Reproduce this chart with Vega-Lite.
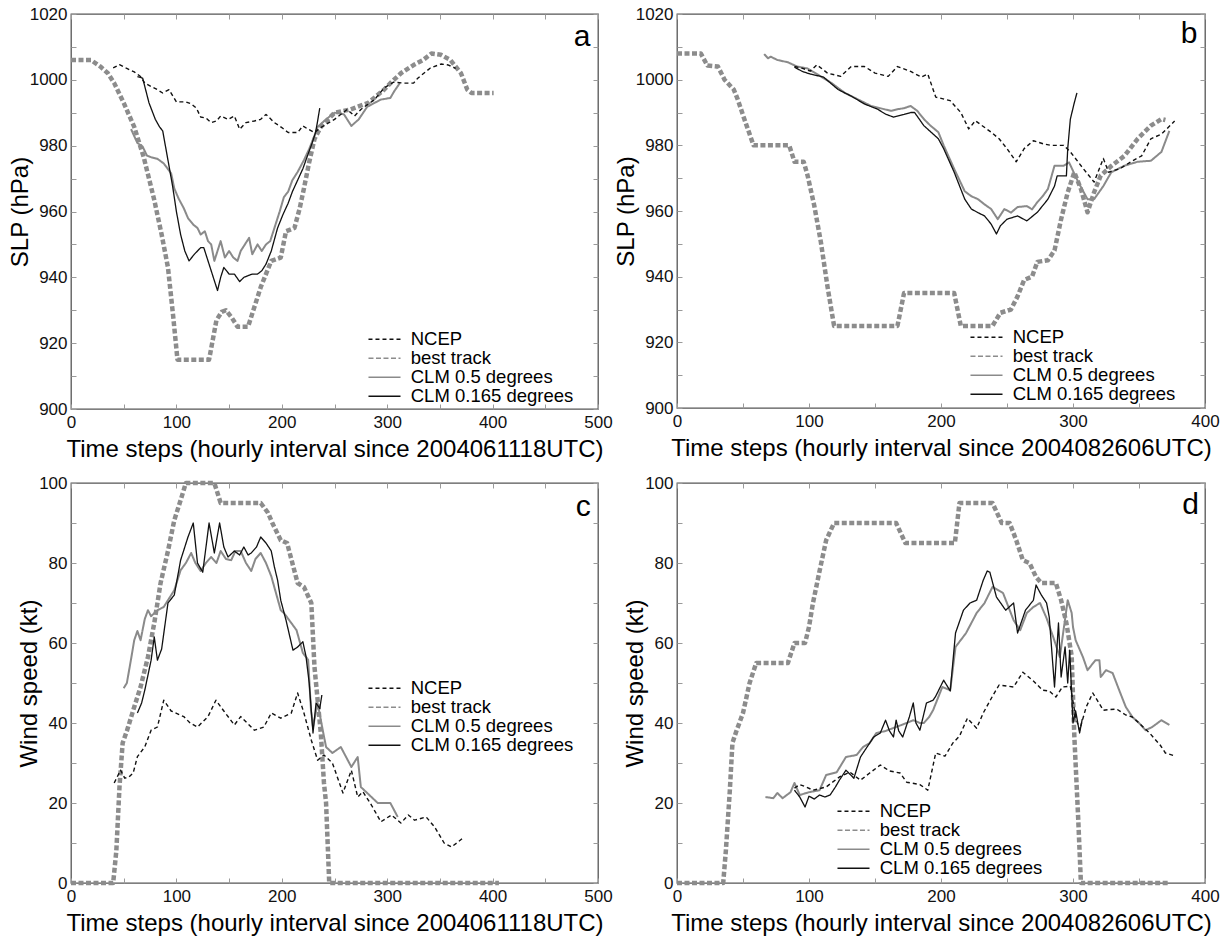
{
"$schema":"https://vega.github.io/schema/vega-lite/v6.json",
"background":"white",
"padding":{"left":7,"top":4,"right":0,"bottom":0},
"bounds":"flush",
"columns":2,
"spacing":{"row":74,"column":79},
"resolve":{"scale":{"color":"independent","strokeDash":"independent"},"legend":{"color":"independent","strokeDash":"independent"}},
"datasets":{
"a_bt":[{"t":0,"v":1006},{"t":10,"v":1006},{"t":19,"v":1006},{"t":28,"v":1004},{"t":35,"v":1002},{"t":41,"v":999},{"t":50,"v":993},{"t":60,"v":985.7},{"t":69,"v":976.5},{"t":79,"v":963.5},{"t":86,"v":953},{"t":92,"v":943},{"t":97,"v":928},{"t":101,"v":915},{"t":115,"v":915},{"t":131,"v":915},{"t":138,"v":927},{"t":143,"v":929.5},{"t":147,"v":930},{"t":152,"v":928},{"t":158,"v":925},{"t":168,"v":925},{"t":175,"v":932},{"t":180,"v":937},{"t":190,"v":945},{"t":199,"v":946},{"t":204,"v":954},{"t":212,"v":955},{"t":217,"v":961},{"t":221,"v":967},{"t":226,"v":975},{"t":231,"v":982},{"t":237,"v":985.7},{"t":250,"v":990},{"t":265,"v":991},{"t":282,"v":993},{"t":297,"v":997},{"t":304,"v":999.3},{"t":313,"v":1002},{"t":325,"v":1004.5},{"t":334,"v":1006},{"t":342,"v":1008},{"t":351,"v":1007.6},{"t":360,"v":1006},{"t":370,"v":1002},{"t":376,"v":997},{"t":380,"v":996},{"t":390,"v":996},{"t":401,"v":996}],
"a_nc":[{"t":40,"v":1003.6},{"t":46,"v":1004.6},{"t":52,"v":1003.6},{"t":60,"v":1002.4},{"t":66,"v":1001},{"t":70,"v":999},{"t":76,"v":998},{"t":82,"v":997},{"t":87,"v":996},{"t":93,"v":997},{"t":100,"v":993.3},{"t":109,"v":993.3},{"t":114,"v":992.7},{"t":119,"v":991.4},{"t":123,"v":988.7},{"t":128,"v":988.4},{"t":133,"v":987},{"t":138,"v":987.5},{"t":142,"v":989},{"t":149,"v":988},{"t":155,"v":989},{"t":160,"v":985},{"t":166,"v":987},{"t":174,"v":987.5},{"t":180,"v":988},{"t":185,"v":989.5},{"t":193,"v":987},{"t":200,"v":985.5},{"t":206,"v":984},{"t":215,"v":984},{"t":220,"v":986},{"t":225,"v":985},{"t":231,"v":984},{"t":237,"v":985.5},{"t":250,"v":988},{"t":262,"v":991},{"t":269,"v":989},{"t":275,"v":991},{"t":281,"v":992.4},{"t":288,"v":994},{"t":297,"v":997.5},{"t":306,"v":999.3},{"t":316,"v":999},{"t":325,"v":999},{"t":329,"v":1000.5},{"t":341,"v":1003.6},{"t":351,"v":1004.8},{"t":358,"v":1004.5},{"t":365,"v":1003.5}],
"a_c1":[{"t":63,"v":1001},{"t":68,"v":1000.5},{"t":74,"v":993},{"t":80,"v":988},{"t":84,"v":985.7},{"t":87,"v":984.5},{"t":92,"v":975.6},{"t":96.5,"v":967.5},{"t":100,"v":960},{"t":104,"v":953},{"t":108,"v":948},{"t":112,"v":945},{"t":117,"v":947},{"t":123,"v":949},{"t":126,"v":949},{"t":131,"v":944},{"t":135,"v":940},{"t":139,"v":936},{"t":142,"v":940},{"t":145,"v":943},{"t":150,"v":941},{"t":155,"v":941},{"t":160,"v":938.7},{"t":164,"v":940},{"t":168,"v":940.5},{"t":172,"v":941},{"t":177,"v":941},{"t":181,"v":942},{"t":185,"v":944},{"t":190,"v":948},{"t":196,"v":955},{"t":201,"v":959},{"t":206,"v":962.5},{"t":210,"v":966},{"t":215,"v":969.5},{"t":220,"v":973},{"t":225,"v":977.5},{"t":229,"v":981},{"t":232,"v":984},{"t":234,"v":987.5},{"t":236,"v":991.4}],
"a_c5":[{"t":57,"v":985},{"t":63,"v":980.8},{"t":68,"v":979.7},{"t":72,"v":977},{"t":76,"v":976.5},{"t":82,"v":976},{"t":88,"v":974.6},{"t":95,"v":971.6},{"t":98,"v":967},{"t":102,"v":964},{"t":107,"v":961},{"t":111,"v":958},{"t":116,"v":956},{"t":120,"v":955},{"t":123,"v":953},{"t":127,"v":954},{"t":130,"v":951},{"t":133,"v":950},{"t":136,"v":945},{"t":139,"v":948},{"t":142,"v":951},{"t":146,"v":946},{"t":150,"v":948},{"t":154,"v":946},{"t":158,"v":945},{"t":161,"v":948},{"t":165,"v":950},{"t":169,"v":952},{"t":172,"v":947},{"t":177,"v":950},{"t":181,"v":948},{"t":185,"v":950},{"t":189,"v":951},{"t":193,"v":955},{"t":198,"v":960},{"t":202,"v":964.4},{"t":206,"v":966},{"t":210,"v":969.5},{"t":215,"v":972},{"t":221,"v":975.6},{"t":226,"v":979},{"t":231,"v":983},{"t":234,"v":985.7},{"t":242,"v":988},{"t":250,"v":990},{"t":255,"v":989.8},{"t":259,"v":989.5},{"t":266,"v":986},{"t":273,"v":988},{"t":281,"v":991.8},{"t":288,"v":993},{"t":294,"v":994},{"t":303,"v":994.5},{"t":307,"v":996.7},{"t":312,"v":999}],
"b_bt":[{"t":0,"v":1008},{"t":18,"v":1008},{"t":23,"v":1004.3},{"t":31,"v":1004},{"t":36,"v":1000},{"t":43,"v":997},{"t":46,"v":994},{"t":51,"v":988},{"t":58,"v":980},{"t":85,"v":980},{"t":89,"v":975},{"t":96,"v":975},{"t":99,"v":970.7},{"t":104,"v":961.6},{"t":109,"v":950.5},{"t":114,"v":937},{"t":119,"v":925},{"t":167,"v":925},{"t":172,"v":935},{"t":210,"v":935},{"t":215,"v":925},{"t":239,"v":925},{"t":245,"v":929},{"t":253,"v":930},{"t":258,"v":934},{"t":263,"v":939},{"t":269,"v":940},{"t":273,"v":944.5},{"t":281,"v":945},{"t":286,"v":948},{"t":291,"v":957.5},{"t":296,"v":965.7},{"t":301,"v":971.8},{"t":306,"v":966.7},{"t":311,"v":959.6},{"t":316,"v":965.7},{"t":321,"v":970.8},{"t":329,"v":973.7},{"t":339,"v":976.8},{"t":349,"v":982},{"t":359,"v":986},{"t":367,"v":988},{"t":370,"v":987.7}],
"b_nc":[{"t":89,"v":1004},{"t":94,"v":1003.6},{"t":101,"v":1002.6},{"t":106,"v":1004.5},{"t":114,"v":1002},{"t":124,"v":1001},{"t":132,"v":1004},{"t":142,"v":1004},{"t":150,"v":1002},{"t":160,"v":1001},{"t":167,"v":1004},{"t":177,"v":1002.5},{"t":185,"v":1000.8},{"t":190,"v":1001.7},{"t":196,"v":994.7},{"t":207,"v":993.6},{"t":215,"v":990},{"t":221,"v":985},{"t":226,"v":987.5},{"t":238,"v":984},{"t":244,"v":982},{"t":250,"v":979},{"t":257,"v":975},{"t":263,"v":979},{"t":270,"v":981.4},{"t":278,"v":980.4},{"t":283,"v":980},{"t":293,"v":980},{"t":298,"v":978},{"t":308,"v":972.8},{"t":316,"v":968.8},{"t":323,"v":976},{"t":327,"v":971.8},{"t":336,"v":973},{"t":344,"v":975},{"t":352,"v":976.8},{"t":359,"v":982},{"t":367,"v":983.4},{"t":377,"v":987.4}],
"b_c5":[{"t":66,"v":1007.8},{"t":69,"v":1006.5},{"t":71,"v":1007},{"t":76,"v":1006},{"t":84,"v":1005.3},{"t":91,"v":1004},{"t":99,"v":1003.4},{"t":106,"v":1001.7},{"t":117,"v":999},{"t":127,"v":996},{"t":137,"v":994},{"t":147,"v":992},{"t":157,"v":991},{"t":162,"v":990.5},{"t":167,"v":991},{"t":172,"v":991.3},{"t":177,"v":992},{"t":182,"v":990.5},{"t":187,"v":988},{"t":192,"v":986},{"t":198,"v":984},{"t":202,"v":980},{"t":210,"v":972.8},{"t":218,"v":966},{"t":223,"v":964.5},{"t":228,"v":963.6},{"t":233,"v":962},{"t":238,"v":960.6},{"t":243,"v":957.5},{"t":248,"v":960.6},{"t":253,"v":959.5},{"t":258,"v":961.2},{"t":265,"v":961.5},{"t":269,"v":960.5},{"t":273,"v":962.7},{"t":277,"v":964.5},{"t":281,"v":966.7},{"t":286,"v":973.8},{"t":293,"v":973.8},{"t":297,"v":974.8},{"t":304,"v":968.8},{"t":311,"v":963.6},{"t":316,"v":963.6},{"t":323,"v":967.6},{"t":329,"v":971.8},{"t":339,"v":973.8},{"t":349,"v":975},{"t":359,"v":975.3},{"t":367,"v":978},{"t":373,"v":984.4}],
"b_c1":[{"t":89,"v":1003.8},{"t":95,"v":1002.5},{"t":101,"v":1001.7},{"t":111,"v":1000.8},{"t":122,"v":997},{"t":132,"v":995},{"t":142,"v":992.6},{"t":152,"v":991},{"t":158,"v":989.5},{"t":164,"v":988.6},{"t":172,"v":989.4},{"t":177,"v":990},{"t":180,"v":990},{"t":187,"v":986},{"t":198,"v":982},{"t":202,"v":979},{"t":210,"v":971.8},{"t":218,"v":963.6},{"t":223,"v":960.6},{"t":228,"v":959.5},{"t":233,"v":958.5},{"t":238,"v":956},{"t":242,"v":953},{"t":245,"v":955.5},{"t":250,"v":957.5},{"t":258,"v":958.5},{"t":265,"v":957},{"t":273,"v":959.6},{"t":281,"v":963.6},{"t":286,"v":967.6},{"t":288,"v":970.7},{"t":295,"v":970.7},{"t":296,"v":979},{"t":298,"v":988},{"t":301,"v":993},{"t":303,"v":996}],
"c_bt":[{"t":0,"v":0},{"t":40,"v":0},{"t":43,"v":8},{"t":46,"v":24},{"t":49,"v":35},{"t":53,"v":38},{"t":60,"v":44},{"t":66,"v":49},{"t":73,"v":56.5},{"t":79,"v":65},{"t":85,"v":75},{"t":92,"v":83},{"t":98,"v":90.7},{"t":104,"v":95.7},{"t":109,"v":100},{"t":136,"v":100},{"t":142,"v":95},{"t":180,"v":95},{"t":187,"v":92.5},{"t":191,"v":90},{"t":199,"v":85.7},{"t":205,"v":85},{"t":212,"v":78},{"t":215,"v":75},{"t":221,"v":74},{"t":228,"v":70},{"t":231,"v":54},{"t":237,"v":37.5},{"t":240,"v":25},{"t":242,"v":20},{"t":245,"v":0},{"t":406,"v":0}],
"c_nc":[{"t":41,"v":25},{"t":47,"v":28.2},{"t":51,"v":26.2},{"t":55,"v":26.5},{"t":59,"v":27.5},{"t":63,"v":31.6},{"t":70,"v":34},{"t":76,"v":38.2},{"t":82,"v":39},{"t":88,"v":45.7},{"t":95,"v":43},{"t":107,"v":41.6},{"t":113,"v":40},{"t":120,"v":39},{"t":130,"v":41.6},{"t":137.5,"v":45.7},{"t":145,"v":43},{"t":155,"v":39.5},{"t":161,"v":41.6},{"t":174,"v":38.2},{"t":183,"v":39},{"t":190,"v":42.5},{"t":199,"v":41.2},{"t":209,"v":42.5},{"t":215,"v":47.5},{"t":221,"v":42.5},{"t":228,"v":35.7},{"t":234,"v":30.7},{"t":240,"v":32},{"t":248,"v":30},{"t":258,"v":22.5},{"t":266,"v":28.2},{"t":272,"v":21.5},{"t":277,"v":22.8},{"t":285,"v":19.5},{"t":294,"v":15.3},{"t":304,"v":17},{"t":313,"v":15},{"t":320,"v":17},{"t":326,"v":15.7},{"t":337,"v":16.5},{"t":345,"v":14},{"t":354,"v":10},{"t":361,"v":9},{"t":367,"v":10.2},{"t":373,"v":11.5}],
"c_c5":[{"t":50,"v":48.7},{"t":53,"v":50},{"t":57,"v":56},{"t":60,"v":60.7},{"t":63,"v":63},{"t":66,"v":60.7},{"t":70,"v":66},{"t":73,"v":68.2},{"t":76,"v":66.7},{"t":82,"v":68.2},{"t":88,"v":69},{"t":92,"v":70.7},{"t":98,"v":73.2},{"t":104,"v":78.2},{"t":109,"v":80},{"t":114,"v":82.5},{"t":118,"v":80},{"t":123,"v":78},{"t":128,"v":80},{"t":133,"v":81.5},{"t":138,"v":80},{"t":142,"v":83},{"t":147,"v":81},{"t":152,"v":80.7},{"t":156,"v":83},{"t":161,"v":83},{"t":166,"v":80},{"t":171,"v":78},{"t":175,"v":81},{"t":180,"v":82.5},{"t":185,"v":80},{"t":190,"v":76.7},{"t":195,"v":72},{"t":199,"v":68.2},{"t":202,"v":67.5},{"t":209,"v":65},{"t":214,"v":63.2},{"t":220,"v":57.5},{"t":225,"v":55.8},{"t":227.7,"v":43.2},{"t":229.6,"v":39},{"t":234,"v":45},{"t":239,"v":38},{"t":242,"v":34},{"t":248,"v":32.5},{"t":256,"v":34},{"t":261,"v":31.5},{"t":266,"v":29},{"t":272,"v":31.5},{"t":275,"v":24},{"t":281,"v":22.5},{"t":291,"v":20},{"t":303,"v":20},{"t":310,"v":16.5}],
"c_c1":[{"t":63,"v":42.5},{"t":67,"v":45},{"t":70,"v":48.2},{"t":76,"v":55.7},{"t":79,"v":61.5},{"t":82,"v":55.7},{"t":86,"v":58.5},{"t":92,"v":70},{"t":98,"v":72},{"t":104,"v":80.7},{"t":111,"v":86.5},{"t":116,"v":90},{"t":120,"v":80},{"t":125,"v":77.7},{"t":131,"v":90},{"t":136,"v":82.5},{"t":141,"v":90},{"t":145,"v":84},{"t":149,"v":81.5},{"t":155,"v":83},{"t":160,"v":82},{"t":164,"v":84},{"t":168,"v":82},{"t":171,"v":82.5},{"t":176,"v":84},{"t":180,"v":86.5},{"t":185,"v":85},{"t":190,"v":83},{"t":193,"v":79},{"t":196,"v":75.7},{"t":199,"v":70.7},{"t":204,"v":65.7},{"t":210.6,"v":58.2},{"t":215,"v":59},{"t":220,"v":60.3},{"t":223,"v":56.6},{"t":226,"v":50},{"t":229.6,"v":37.5},{"t":232.5,"v":45},{"t":236,"v":43.6},{"t":238,"v":47}],
"d_bt":[{"t":0,"v":0},{"t":35,"v":0},{"t":37,"v":8},{"t":40,"v":23},{"t":42,"v":35},{"t":45,"v":38},{"t":50,"v":42.5},{"t":55,"v":50},{"t":60,"v":55},{"t":84,"v":55},{"t":89,"v":60},{"t":97,"v":60},{"t":100,"v":64},{"t":103,"v":70},{"t":108,"v":78},{"t":113,"v":85.7},{"t":119,"v":90},{"t":166,"v":90},{"t":173,"v":85},{"t":210.5,"v":85},{"t":214,"v":95},{"t":239,"v":95},{"t":246,"v":90},{"t":252,"v":90},{"t":257,"v":85.7},{"t":262,"v":80.7},{"t":267,"v":80},{"t":272,"v":76.5},{"t":276,"v":75},{"t":287,"v":75},{"t":291,"v":70.7},{"t":295,"v":65},{"t":299,"v":56.7},{"t":301,"v":36.7},{"t":304,"v":15.7},{"t":306,"v":0},{"t":372,"v":0}],
"d_nc":[{"t":89,"v":23.7},{"t":93,"v":24.6},{"t":98,"v":24},{"t":103,"v":23.2},{"t":113,"v":24},{"t":123,"v":26.5},{"t":131,"v":27.7},{"t":139,"v":25.7},{"t":146,"v":27.5},{"t":154,"v":29.5},{"t":161,"v":28},{"t":169,"v":27.5},{"t":174,"v":25.2},{"t":184,"v":24.6},{"t":190,"v":23.2},{"t":196,"v":32.5},{"t":203,"v":31.7},{"t":209,"v":35},{"t":214,"v":36.7},{"t":220,"v":41.2},{"t":227,"v":38.7},{"t":232,"v":42.5},{"t":239,"v":46.7},{"t":244,"v":49.5},{"t":255,"v":49},{"t":262,"v":52.7},{"t":270,"v":50.5},{"t":277,"v":48.2},{"t":282,"v":48},{"t":287,"v":46.5},{"t":292,"v":49},{"t":298,"v":49.2},{"t":302,"v":41.5},{"t":305,"v":38.2},{"t":310,"v":44},{"t":315,"v":47.5},{"t":323,"v":43.2},{"t":333,"v":43.5},{"t":340,"v":42},{"t":345,"v":41.5},{"t":350,"v":40},{"t":358,"v":37.5},{"t":366,"v":34.5},{"t":370,"v":32.5},{"t":377,"v":31.8}],
"d_c5":[{"t":67,"v":21.5},{"t":73,"v":21.2},{"t":76,"v":22.5},{"t":80,"v":21.2},{"t":86,"v":22.7},{"t":89,"v":25},{"t":93,"v":22},{"t":100,"v":22.7},{"t":108,"v":23.2},{"t":113,"v":27},{"t":121,"v":27.7},{"t":128,"v":31.5},{"t":136,"v":32},{"t":141,"v":34},{"t":146,"v":35},{"t":151,"v":37.5},{"t":158,"v":38},{"t":166,"v":39},{"t":174,"v":40},{"t":179,"v":40.7},{"t":184,"v":40},{"t":187,"v":40},{"t":191,"v":41.5},{"t":194,"v":43.2},{"t":201,"v":49},{"t":207,"v":48.2},{"t":211,"v":59},{"t":219,"v":62.5},{"t":227,"v":67.5},{"t":233,"v":70},{"t":239,"v":74},{"t":247,"v":72.5},{"t":255,"v":65.7},{"t":260,"v":63.2},{"t":265,"v":67.5},{"t":270,"v":69},{"t":275,"v":70},{"t":280,"v":66.2},{"t":285,"v":61.5},{"t":290,"v":56.5},{"t":296,"v":70.7},{"t":299,"v":67.5},{"t":300,"v":64},{"t":302,"v":60.7},{"t":307.5,"v":56.5},{"t":311,"v":53.2},{"t":317,"v":55.7},{"t":320,"v":55.7},{"t":321,"v":51.5},{"t":325,"v":53.2},{"t":330,"v":52.5},{"t":335,"v":48.2},{"t":340,"v":44},{"t":345,"v":41.5},{"t":350,"v":40},{"t":355,"v":38.2},{"t":360,"v":39},{"t":367,"v":40.7},{"t":373,"v":39.5}],
"d_c1":[{"t":89,"v":23.2},{"t":93,"v":21.5},{"t":97,"v":19},{"t":100,"v":21.7},{"t":104,"v":21},{"t":108,"v":22},{"t":112,"v":21.5},{"t":116,"v":22},{"t":120,"v":24},{"t":123,"v":25.7},{"t":128,"v":28.2},{"t":134,"v":26.2},{"t":139,"v":31.5},{"t":144,"v":34},{"t":149,"v":36.5},{"t":154,"v":37.5},{"t":158,"v":40.7},{"t":161,"v":38},{"t":164,"v":36.5},{"t":166,"v":40.7},{"t":168,"v":38},{"t":171,"v":36.5},{"t":176,"v":41.5},{"t":179,"v":45},{"t":181,"v":40},{"t":184,"v":38.2},{"t":189,"v":45},{"t":194,"v":45.7},{"t":196,"v":46.7},{"t":202,"v":50.7},{"t":207,"v":48},{"t":211,"v":62.5},{"t":217,"v":68.2},{"t":222,"v":70},{"t":227,"v":70.7},{"t":232,"v":75.7},{"t":235,"v":78},{"t":237,"v":77.7},{"t":242,"v":71.5},{"t":249,"v":68.2},{"t":255,"v":70},{"t":258,"v":62.5},{"t":264,"v":68.2},{"t":270,"v":70.7},{"t":272,"v":74.5},{"t":276,"v":72},{"t":280,"v":70},{"t":282,"v":66.5},{"t":286,"v":49},{"t":289,"v":65},{"t":291,"v":51.5},{"t":294,"v":59},{"t":296,"v":50},{"t":297.5,"v":58.2},{"t":300,"v":40},{"t":302,"v":43},{"t":305,"v":37.5},{"t":307,"v":41}]
},
"concat":[
{"width":527,"height":395,
 "layer":[
  {"encoding":{
    "x":{"field":"t","type":"quantitative","scale":{"domain":[0,500],"nice":false,"zero":false},"axis":{"orient":"bottom","values":[0,50,100,150,200,250,300,350,400,450,500],"labelExpr":"datum.value%100===0?''+datum.value:''","title":"Time steps (hourly interval since 2004061118UTC)"}},
    "y":{"field":"v","type":"quantitative","scale":{"domain":[900,1020],"nice":false,"zero":false},"axis":{"orient":"left","values":[900,910,920,930,940,950,960,970,980,990,1000,1010,1020],"labelExpr":"datum.value%20===0?''+datum.value:''","title":"SLP (hPa)"}}},
   "layer":[
    {"data":{"name":"a_bt"},"mark":{"type":"line","strokeWidth":4.5,"strokeCap":"butt"},"encoding":{"color":{"datum":"best track","scale":{"domain":["NCEP","best track","CLM 0.5 degrees","CLM 0.165 degrees"],"range":["#111111","#8c8c8c","#8a8a8a","#111111"]},"legend":{"legendX":298,"legendY":316,"encode":{"symbols":{"strokeWidth":{"condition":[{"test":"datum.value==='best track'","value":4.5},{"test":"datum.value==='CLM 0.5 degrees'","value":2}],"value":1.4}}}}},"strokeDash":{"datum":"best track","scale":{"domain":["NCEP","best track","CLM 0.5 degrees","CLM 0.165 degrees"],"range":[[4,3],[5,2.5],[1,0],[1,0]]},"legend":{"legendX":298,"legendY":316,"encode":{"symbols":{"strokeWidth":{"condition":[{"test":"datum.value==='best track'","value":4.5},{"test":"datum.value==='CLM 0.5 degrees'","value":2}],"value":1.4}}}}}}},
    {"data":{"name":"a_c5"},"mark":{"type":"line","strokeWidth":2},"encoding":{"color":{"datum":"CLM 0.5 degrees","legend":{"legendX":298,"legendY":316,"encode":{"symbols":{"strokeWidth":{"condition":[{"test":"datum.value==='best track'","value":4.5},{"test":"datum.value==='CLM 0.5 degrees'","value":2}],"value":1.4}}}}},"strokeDash":{"datum":"CLM 0.5 degrees","legend":{"legendX":298,"legendY":316,"encode":{"symbols":{"strokeWidth":{"condition":[{"test":"datum.value==='best track'","value":4.5},{"test":"datum.value==='CLM 0.5 degrees'","value":2}],"value":1.4}}}}}}},
    {"data":{"name":"a_c1"},"mark":{"type":"line","strokeWidth":1.3},"encoding":{"color":{"datum":"CLM 0.165 degrees","legend":{"legendX":298,"legendY":316,"encode":{"symbols":{"strokeWidth":{"condition":[{"test":"datum.value==='best track'","value":4.5},{"test":"datum.value==='CLM 0.5 degrees'","value":2}],"value":1.4}}}}},"strokeDash":{"datum":"CLM 0.165 degrees","legend":{"legendX":298,"legendY":316,"encode":{"symbols":{"strokeWidth":{"condition":[{"test":"datum.value==='best track'","value":4.5},{"test":"datum.value==='CLM 0.5 degrees'","value":2}],"value":1.4}}}}}}},
    {"data":{"name":"a_nc"},"mark":{"type":"line","strokeWidth":1.4},"encoding":{"color":{"datum":"NCEP","legend":{"legendX":298,"legendY":316,"encode":{"symbols":{"strokeWidth":{"condition":[{"test":"datum.value==='best track'","value":4.5},{"test":"datum.value==='CLM 0.5 degrees'","value":2}],"value":1.4}}}}},"strokeDash":{"datum":"NCEP","legend":{"legendX":298,"legendY":316,"encode":{"symbols":{"strokeWidth":{"condition":[{"test":"datum.value==='best track'","value":4.5},{"test":"datum.value==='CLM 0.5 degrees'","value":2}],"value":1.4}}}}}}}
   ]},
  {"data":{"values":[{}]},"mark":{"type":"text","fontSize":30,"align":"center","baseline":"middle","color":"#000000"},
   "encoding":{"x":{"datum":485,"type":"quantitative","axis":{"orient":"top","values":[0,50,100,150,200,250,300,350,400,450,500],"labels":false,"title":null}},
     "y":{"datum":1013,"type":"quantitative","axis":{"orient":"right","values":[900,910,920,930,940,950,960,970,980,990,1000,1010,1020],"labels":false,"title":null}},
     "text":{"value":"a"}}}
 ],
 "resolve":{"axis":{"x":"independent","y":"independent"}}},
{"width":528,"height":394,
 "layer":[
  {"encoding":{
    "x":{"field":"t","type":"quantitative","scale":{"domain":[0,400],"nice":false,"zero":false},"axis":{"orient":"bottom","values":[0,50,100,150,200,250,300,350,400],"labelExpr":"datum.value%100===0?''+datum.value:''","title":"Time steps (hourly interval since 2004082606UTC)"}},
    "y":{"field":"v","type":"quantitative","scale":{"domain":[900,1020],"nice":false,"zero":false},"axis":{"orient":"left","values":[900,910,920,930,940,950,960,970,980,990,1000,1010,1020],"labelExpr":"datum.value%20===0?''+datum.value:''","title":"SLP (hPa)"}}},
   "layer":[
    {"data":{"name":"b_bt"},"mark":{"type":"line","strokeWidth":4.5,"strokeCap":"butt"},"encoding":{"color":{"datum":"best track","scale":{"domain":["NCEP","best track","CLM 0.5 degrees","CLM 0.165 degrees"],"range":["#111111","#8c8c8c","#8a8a8a","#111111"]},"legend":{"legendX":294,"legendY":314,"encode":{"symbols":{"strokeWidth":{"condition":[{"test":"datum.value==='best track'","value":4.5},{"test":"datum.value==='CLM 0.5 degrees'","value":2}],"value":1.4}}}}},"strokeDash":{"datum":"best track","scale":{"domain":["NCEP","best track","CLM 0.5 degrees","CLM 0.165 degrees"],"range":[[4,3],[5,2.5],[1,0],[1,0]]},"legend":{"legendX":294,"legendY":314,"encode":{"symbols":{"strokeWidth":{"condition":[{"test":"datum.value==='best track'","value":4.5},{"test":"datum.value==='CLM 0.5 degrees'","value":2}],"value":1.4}}}}}}},
    {"data":{"name":"b_c5"},"mark":{"type":"line","strokeWidth":2},"encoding":{"color":{"datum":"CLM 0.5 degrees","legend":{"legendX":294,"legendY":314,"encode":{"symbols":{"strokeWidth":{"condition":[{"test":"datum.value==='best track'","value":4.5},{"test":"datum.value==='CLM 0.5 degrees'","value":2}],"value":1.4}}}}},"strokeDash":{"datum":"CLM 0.5 degrees","legend":{"legendX":294,"legendY":314,"encode":{"symbols":{"strokeWidth":{"condition":[{"test":"datum.value==='best track'","value":4.5},{"test":"datum.value==='CLM 0.5 degrees'","value":2}],"value":1.4}}}}}}},
    {"data":{"name":"b_c1"},"mark":{"type":"line","strokeWidth":1.3},"encoding":{"color":{"datum":"CLM 0.165 degrees","legend":{"legendX":294,"legendY":314,"encode":{"symbols":{"strokeWidth":{"condition":[{"test":"datum.value==='best track'","value":4.5},{"test":"datum.value==='CLM 0.5 degrees'","value":2}],"value":1.4}}}}},"strokeDash":{"datum":"CLM 0.165 degrees","legend":{"legendX":294,"legendY":314,"encode":{"symbols":{"strokeWidth":{"condition":[{"test":"datum.value==='best track'","value":4.5},{"test":"datum.value==='CLM 0.5 degrees'","value":2}],"value":1.4}}}}}}},
    {"data":{"name":"b_nc"},"mark":{"type":"line","strokeWidth":1.4},"encoding":{"color":{"datum":"NCEP","legend":{"legendX":294,"legendY":314,"encode":{"symbols":{"strokeWidth":{"condition":[{"test":"datum.value==='best track'","value":4.5},{"test":"datum.value==='CLM 0.5 degrees'","value":2}],"value":1.4}}}}},"strokeDash":{"datum":"NCEP","legend":{"legendX":294,"legendY":314,"encode":{"symbols":{"strokeWidth":{"condition":[{"test":"datum.value==='best track'","value":4.5},{"test":"datum.value==='CLM 0.5 degrees'","value":2}],"value":1.4}}}}}}}
   ]},
  {"data":{"values":[{}]},"mark":{"type":"text","fontSize":30,"align":"center","baseline":"middle","color":"#000000"},
   "encoding":{"x":{"datum":388,"type":"quantitative","axis":{"orient":"top","values":[0,50,100,150,200,250,300,350,400],"labels":false,"title":null}},
     "y":{"datum":1014,"type":"quantitative","axis":{"orient":"right","values":[900,910,920,930,940,950,960,970,980,990,1000,1010,1020],"labels":false,"title":null}},
     "text":{"value":"b"}}}
 ],
 "resolve":{"axis":{"x":"independent","y":"independent"}}},
{"width":527,"height":400,
 "layer":[
  {"encoding":{
    "x":{"field":"t","type":"quantitative","scale":{"domain":[0,500],"nice":false,"zero":false},"axis":{"orient":"bottom","values":[0,50,100,150,200,250,300,350,400,450,500],"labelExpr":"datum.value%100===0?''+datum.value:''","title":"Time steps (hourly interval since 2004061118UTC)"}},
    "y":{"field":"v","type":"quantitative","scale":{"domain":[0,100],"nice":false,"zero":false},"axis":{"orient":"left","values":[0,10,20,30,40,50,60,70,80,90,100],"labelExpr":"datum.value%20===0?''+datum.value:''","title":"Wind speed (kt)"}}},
   "layer":[
    {"data":{"name":"c_bt"},"mark":{"type":"line","strokeWidth":4.5,"strokeCap":"butt"},"encoding":{"color":{"datum":"best track","scale":{"domain":["NCEP","best track","CLM 0.5 degrees","CLM 0.165 degrees"],"range":["#111111","#8c8c8c","#8a8a8a","#111111"]},"legend":{"legendX":298,"legendY":196,"encode":{"symbols":{"strokeWidth":{"condition":[{"test":"datum.value==='best track'","value":4.5},{"test":"datum.value==='CLM 0.5 degrees'","value":2}],"value":1.4}}}}},"strokeDash":{"datum":"best track","scale":{"domain":["NCEP","best track","CLM 0.5 degrees","CLM 0.165 degrees"],"range":[[4,3],[5,2.5],[1,0],[1,0]]},"legend":{"legendX":298,"legendY":196,"encode":{"symbols":{"strokeWidth":{"condition":[{"test":"datum.value==='best track'","value":4.5},{"test":"datum.value==='CLM 0.5 degrees'","value":2}],"value":1.4}}}}}}},
    {"data":{"name":"c_c5"},"mark":{"type":"line","strokeWidth":2},"encoding":{"color":{"datum":"CLM 0.5 degrees","legend":{"legendX":298,"legendY":196,"encode":{"symbols":{"strokeWidth":{"condition":[{"test":"datum.value==='best track'","value":4.5},{"test":"datum.value==='CLM 0.5 degrees'","value":2}],"value":1.4}}}}},"strokeDash":{"datum":"CLM 0.5 degrees","legend":{"legendX":298,"legendY":196,"encode":{"symbols":{"strokeWidth":{"condition":[{"test":"datum.value==='best track'","value":4.5},{"test":"datum.value==='CLM 0.5 degrees'","value":2}],"value":1.4}}}}}}},
    {"data":{"name":"c_c1"},"mark":{"type":"line","strokeWidth":1.3},"encoding":{"color":{"datum":"CLM 0.165 degrees","legend":{"legendX":298,"legendY":196,"encode":{"symbols":{"strokeWidth":{"condition":[{"test":"datum.value==='best track'","value":4.5},{"test":"datum.value==='CLM 0.5 degrees'","value":2}],"value":1.4}}}}},"strokeDash":{"datum":"CLM 0.165 degrees","legend":{"legendX":298,"legendY":196,"encode":{"symbols":{"strokeWidth":{"condition":[{"test":"datum.value==='best track'","value":4.5},{"test":"datum.value==='CLM 0.5 degrees'","value":2}],"value":1.4}}}}}}},
    {"data":{"name":"c_nc"},"mark":{"type":"line","strokeWidth":1.4},"encoding":{"color":{"datum":"NCEP","legend":{"legendX":298,"legendY":196,"encode":{"symbols":{"strokeWidth":{"condition":[{"test":"datum.value==='best track'","value":4.5},{"test":"datum.value==='CLM 0.5 degrees'","value":2}],"value":1.4}}}}},"strokeDash":{"datum":"NCEP","legend":{"legendX":298,"legendY":196,"encode":{"symbols":{"strokeWidth":{"condition":[{"test":"datum.value==='best track'","value":4.5},{"test":"datum.value==='CLM 0.5 degrees'","value":2}],"value":1.4}}}}}}}
   ]},
  {"data":{"values":[{}]},"mark":{"type":"text","fontSize":30,"align":"center","baseline":"middle","color":"#000000"},
   "encoding":{"x":{"datum":486,"type":"quantitative","axis":{"orient":"top","values":[0,50,100,150,200,250,300,350,400,450,500],"labels":false,"title":null}},
     "y":{"datum":94,"type":"quantitative","axis":{"orient":"right","values":[0,10,20,30,40,50,60,70,80,90,100],"labels":false,"title":null}},
     "text":{"value":"c"}}}
 ],
 "resolve":{"axis":{"x":"independent","y":"independent"}}},
{"width":528,"height":400,
 "layer":[
  {"encoding":{
    "x":{"field":"t","type":"quantitative","scale":{"domain":[0,400],"nice":false,"zero":false},"axis":{"orient":"bottom","values":[0,50,100,150,200,250,300,350,400],"labelExpr":"datum.value%100===0?''+datum.value:''","title":"Time steps (hourly interval since 2004082606UTC)"}},
    "y":{"field":"v","type":"quantitative","scale":{"domain":[0,100],"nice":false,"zero":false},"axis":{"orient":"left","values":[0,10,20,30,40,50,60,70,80,90,100],"labelExpr":"datum.value%20===0?''+datum.value:''","title":"Wind speed (kt)"}}},
   "layer":[
    {"data":{"name":"d_bt"},"mark":{"type":"line","strokeWidth":4.5,"strokeCap":"butt"},"encoding":{"color":{"datum":"best track","scale":{"domain":["NCEP","best track","CLM 0.5 degrees","CLM 0.165 degrees"],"range":["#111111","#8c8c8c","#8a8a8a","#111111"]},"legend":{"legendX":161,"legendY":319,"encode":{"symbols":{"strokeWidth":{"condition":[{"test":"datum.value==='best track'","value":4.5},{"test":"datum.value==='CLM 0.5 degrees'","value":2}],"value":1.4}}}}},"strokeDash":{"datum":"best track","scale":{"domain":["NCEP","best track","CLM 0.5 degrees","CLM 0.165 degrees"],"range":[[4,3],[5,2.5],[1,0],[1,0]]},"legend":{"legendX":161,"legendY":319,"encode":{"symbols":{"strokeWidth":{"condition":[{"test":"datum.value==='best track'","value":4.5},{"test":"datum.value==='CLM 0.5 degrees'","value":2}],"value":1.4}}}}}}},
    {"data":{"name":"d_c5"},"mark":{"type":"line","strokeWidth":2},"encoding":{"color":{"datum":"CLM 0.5 degrees","legend":{"legendX":161,"legendY":319,"encode":{"symbols":{"strokeWidth":{"condition":[{"test":"datum.value==='best track'","value":4.5},{"test":"datum.value==='CLM 0.5 degrees'","value":2}],"value":1.4}}}}},"strokeDash":{"datum":"CLM 0.5 degrees","legend":{"legendX":161,"legendY":319,"encode":{"symbols":{"strokeWidth":{"condition":[{"test":"datum.value==='best track'","value":4.5},{"test":"datum.value==='CLM 0.5 degrees'","value":2}],"value":1.4}}}}}}},
    {"data":{"name":"d_c1"},"mark":{"type":"line","strokeWidth":1.3},"encoding":{"color":{"datum":"CLM 0.165 degrees","legend":{"legendX":161,"legendY":319,"encode":{"symbols":{"strokeWidth":{"condition":[{"test":"datum.value==='best track'","value":4.5},{"test":"datum.value==='CLM 0.5 degrees'","value":2}],"value":1.4}}}}},"strokeDash":{"datum":"CLM 0.165 degrees","legend":{"legendX":161,"legendY":319,"encode":{"symbols":{"strokeWidth":{"condition":[{"test":"datum.value==='best track'","value":4.5},{"test":"datum.value==='CLM 0.5 degrees'","value":2}],"value":1.4}}}}}}},
    {"data":{"name":"d_nc"},"mark":{"type":"line","strokeWidth":1.4},"encoding":{"color":{"datum":"NCEP","legend":{"legendX":161,"legendY":319,"encode":{"symbols":{"strokeWidth":{"condition":[{"test":"datum.value==='best track'","value":4.5},{"test":"datum.value==='CLM 0.5 degrees'","value":2}],"value":1.4}}}}},"strokeDash":{"datum":"NCEP","legend":{"legendX":161,"legendY":319,"encode":{"symbols":{"strokeWidth":{"condition":[{"test":"datum.value==='best track'","value":4.5},{"test":"datum.value==='CLM 0.5 degrees'","value":2}],"value":1.4}}}}}}}
   ]},
  {"data":{"values":[{}]},"mark":{"type":"text","fontSize":30,"align":"center","baseline":"middle","color":"#000000"},
   "encoding":{"x":{"datum":389,"type":"quantitative","axis":{"orient":"top","values":[0,50,100,150,200,250,300,350,400],"labels":false,"title":null}},
     "y":{"datum":94.5,"type":"quantitative","axis":{"orient":"right","values":[0,10,20,30,40,50,60,70,80,90,100],"labels":false,"title":null}},
     "text":{"value":"d"}}}
 ],
 "resolve":{"axis":{"x":"independent","y":"independent"}}}
],
"config":{
 "font":"Liberation Sans",
 "view":{"stroke":"#555555","strokeWidth":1.3},
 "axis":{"domain":false,"grid":false,"ticks":true,"tickSize":-5,"tickColor":"#9a9a9a","tickWidth":1,"labelFont":"Liberation Sans","labelFontSize":17,"labelColor":"#111111","labelFlush":false,"labelOverlap":false,"titleFont":"Liberation Sans","titleFontSize":24,"titleFontWeight":"normal","titleColor":"#000000"},
 "axisX":{"titlePadding":7,"labelPadding":10.5},
 "axisY":{"titlePadding":-3,"labelPadding":9},
 "legend":{"title":null,"orient":"none","symbolType":"M-3,0H3","symbolSize":114,"symbolOffset":6.25,"labelOffset":17,"labelFontSize":18.5,"labelLimit":300,"labelColor":"#000000","labelFont":"Liberation Sans","rowPadding":0,"padding":0},
 "line":{"strokeJoin":"round"}
}
}
